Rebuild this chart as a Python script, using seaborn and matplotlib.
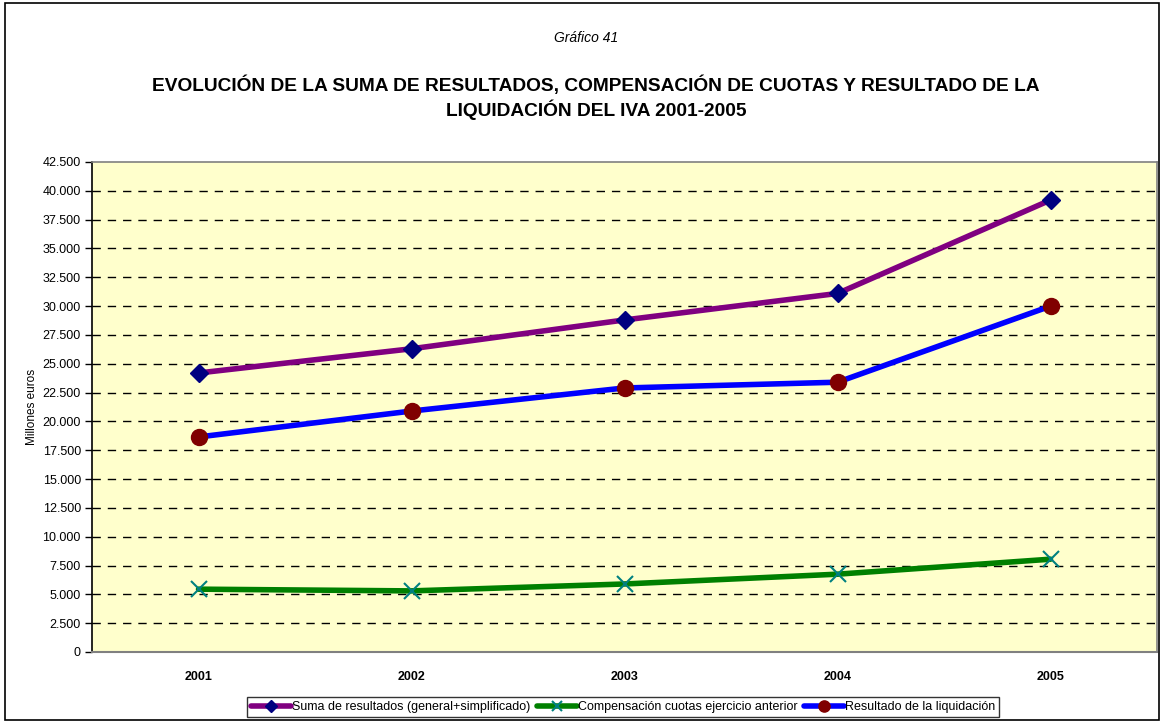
import matplotlib
matplotlib.use("Agg")
import matplotlib.pyplot as plt
from matplotlib.ticker import FuncFormatter, MultipleLocator
import seaborn as sns
import pandas as pd

years = ["2001", "2002", "2003", "2004", "2005"]
suma_resultados = [24200, 26300, 28800, 31100, 39200]
compensacion_cuotas = [5450, 5300, 5900, 6750, 8050]
resultado_liquidacion = [18650, 20900, 22900, 23400, 30000]

series_names = [
    "Suma de resultados (general+simplificado)",
    "Compensación cuotas ejercicio anterior",
    "Resultado de la liquidación",
]

sns.set_style("white")
plt.rcParams["font.family"] = ["Liberation Sans", "DejaVu Sans"]
plt.rcParams["text.color"] = "black"
plt.rcParams["axes.labelcolor"] = "black"
plt.rcParams["xtick.color"] = "black"
plt.rcParams["ytick.color"] = "black"

df = pd.DataFrame({
    "year": years * 3,
    "value": suma_resultados + compensacion_cuotas + resultado_liquidacion,
    "serie": [series_names[0]] * 5 + [series_names[1]] * 5 + [series_names[2]] * 5,
})

fig = plt.figure(figsize=(11.62, 7.22), dpi=100)
fig.patch.set_facecolor("white")
# outer frame of the chart
fig.add_artist(plt.Rectangle((0.004, 0.003), 0.993, 0.993, transform=fig.transFigure,
                             fill=False, edgecolor="black", linewidth=1.2))

ax = fig.add_axes([92 / 1162, 1 - 652 / 722, (1157 - 92) / 1162, (652 - 162) / 722])
ax.set_facecolor("#FFFFCC")

styles = {
    series_names[0]: dict(color="#800080", marker="D", mfc="#000080", mec="#000080", ms=9, mew=1),
    series_names[1]: dict(color="#008000", marker="x", mfc="#008080", mec="#008080", ms=11, mew=1.5),
    series_names[2]: dict(color="#0000FF", marker="o", mfc="#800000", mec="#800000", ms=11.5, mew=1),
}

for name in series_names:
    st = styles[name]
    sub = df[df["serie"] == name]
    sns.lineplot(data=sub, x="year", y="value", ax=ax, color=st["color"], linewidth=4,
                 marker=st["marker"], markersize=st["ms"], markerfacecolor=st["mfc"],
                 markeredgecolor=st["mec"], markeredgewidth=st["mew"], label=name,
                 sort=False, zorder=3)

ax.set_xlim(-0.5, 4.5)
ax.set_ylim(0, 42500)
ax.yaxis.set_major_locator(MultipleLocator(2500))
ax.yaxis.set_major_formatter(FuncFormatter(lambda v, p: f"{int(v):,}".replace(",", ".")))
for v in range(2500, 42500, 2500):
    ax.axhline(v, color="black", linestyle=(0, (6, 5)), linewidth=1, zorder=1)

ax.tick_params(axis="y", which="major", direction="out", length=5, width=1, color="black",
               labelsize=9, pad=3, left=True, labelcolor="black")
ax.tick_params(axis="x", length=0, labelsize=9, pad=14, labelcolor="black")
for lbl in ax.get_xticklabels():
    lbl.set_fontweight("bold")
ax.set_xlabel("")
ax.set_ylabel("Millones euros", fontsize=8.5, color="black")
ax.yaxis.set_label_coords(-54 / 1065, 0.5)

ax.spines["left"].set_color("black")
ax.spines["left"].set_linewidth(1.2)
ax.spines["bottom"].set_color("#808080")
ax.spines["bottom"].set_linewidth(1.5)
ax.spines["top"].set_color("#808080")
ax.spines["right"].set_color("#808080")
ax.spines["top"].set_linewidth(1.2)
ax.spines["right"].set_linewidth(1.2)

ax.legend_.remove()
handles, labels = ax.get_legend_handles_labels()
leg = fig.legend(handles, labels, loc="center", bbox_to_anchor=(623 / 1162, 1 - 707 / 722),
                 ncol=3, frameon=True, fontsize=9, handlelength=3.2, handletextpad=0.1,
                 columnspacing=0.5, borderpad=0.3, fancybox=False)
leg.get_frame().set_edgecolor("black")
leg.get_frame().set_linewidth(1)
for h in leg.legend_handles:
    h.set_markersize(h.get_markersize() * 0.7)
for t in leg.get_texts():
    t.set_color("black")

fig.text(586 / 1162, 1 - 38 / 722, "Gráfico 41", ha="center", va="center",
         fontsize=10, style="italic", color="black")
fig.text(596 / 1162, 1 - 85 / 722,
         "EVOLUCIÓN DE LA SUMA DE RESULTADOS, COMPENSACIÓN DE CUOTAS Y RESULTADO DE LA",
         ha="center", va="center", fontsize=13.8, fontweight="bold", color="black")
fig.text(596 / 1162, 1 - 110 / 722, "LIQUIDACIÓN DEL IVA 2001-2005",
         ha="center", va="center", fontsize=13.8, fontweight="bold", color="black")

fig.savefig("out.png", dpi=100, facecolor="white")
